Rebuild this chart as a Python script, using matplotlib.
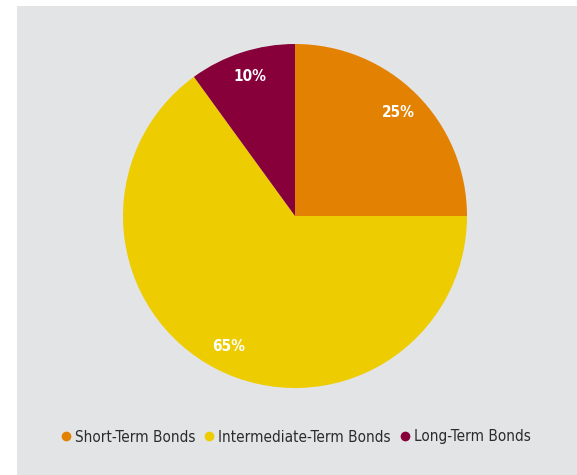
import matplotlib
matplotlib.use('Agg')
import matplotlib.pyplot as plt
from matplotlib.patches import Rectangle
from matplotlib.lines import Line2D

# bond allocation
labels = ['Short-Term Bonds', 'Intermediate-Term Bonds', 'Long-Term Bonds']
shares = [25, 65, 10]
colors = ['#e38103', '#edcc02', '#870039']

W, H = 577, 475
fig = plt.figure(figsize=(W / 100, H / 100), dpi=100, facecolor='white')

# grey panel behind chart
fig.patches.append(Rectangle((17 / W, 0), 1 - 17 / W, (H - 6) / H,
                             transform=fig.transFigure, facecolor='#e3e4e6',
                             edgecolor='none', zorder=-5))

cx, cy, r = 295, 216, 172
ax = fig.add_axes([(cx - r) / W, (H - cy - r) / H, 2 * r / W, 2 * r / H])
ax.set_facecolor('none')
ax.set_zorder(2)

wedges, texts, autotexts = ax.pie(shares, colors=colors, startangle=90,
                                  counterclock=False, autopct='%d%%',
                                  pctdistance=0.85,
                                  wedgeprops=dict(linewidth=0),
                                  textprops=dict(color='white', fontsize=11,
                                                 fontweight='bold',
                                                 fontstretch='condensed'))
ax.set_xlim(-1, 1)
ax.set_ylim(-1, 1)
ax.set_aspect('equal')
ax.axis('off')

handles = [Line2D([], [], marker='o', linestyle='none', markersize=7,
                  markerfacecolor=c, markeredgecolor='none') for c in colors]
leg = fig.legend(handles, labels, loc='center', bbox_to_anchor=(295 / W, 1 - 437 / H),
                 ncol=3, frameon=False, handletextpad=0.2, columnspacing=0.5,
                 handlelength=0.8, prop=dict(size=11, stretch='condensed'),
                 labelcolor='#2b2b2b')
leg.set_zorder(3)

fig.savefig('out.png', dpi=100, facecolor='white')
